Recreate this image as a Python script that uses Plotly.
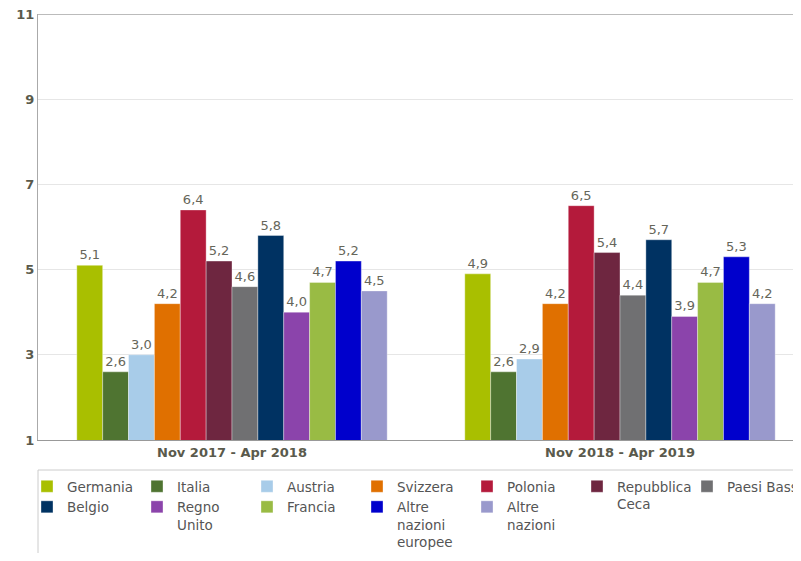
import plotly.graph_objects as go

periods = ["Nov 2017 - Apr 2018", "Nov 2018 - Apr 2019"]
countries = ["Germania", "Italia", "Austria", "Svizzera", "Polonia", "Repubblica Ceca",
             "Paesi Bassi", "Belgio", "Regno Unito", "Francia", "Altre nazioni europee",
             "Altre nazioni"]
legend_names = ["Germania", "Italia", "Austria", "Svizzera", "Polonia", "Repubblica<br>Ceca",
                "Paesi Bassi", "Belgio", "Regno<br>Unito", "Francia", "Altre<br>nazioni<br>europee",
                "Altre<br>nazioni"]
values_2018 = [5.1, 2.6, 3.0, 4.2, 6.4, 5.2, 4.6, 5.8, 4.0, 4.7, 5.2, 4.5]
values_2019 = [4.9, 2.6, 2.9, 4.2, 6.5, 5.4, 4.4, 5.7, 3.9, 4.7, 5.3, 4.2]
y_ticks = [1, 3, 5, 7, 9, 11]

colors = ["#a9bf00", "#4f7431", "#a8cce9", "#e07000", "#b41a3b", "#6e2640",
          "#707072", "#003262", "#8b44ab", "#99bb44", "#0000cc", "#9999cc"]
legend_col = [0, 1, 2, 3, 4, 5, 6, 0, 1, 2, 3, 4]

# the page body has an 8px margin, so figure pixel = page pixel - 8
OFF = 8
W, H = 801 - OFF, 561 - 2 * OFF
ml, mt = 38 - OFF, 14 - OFF
plot_bottom = 440 - OFF
mb = H - plot_bottom
plot_w = W - ml
plot_h = H - mt - mb

fig = go.Figure()
for i, c in enumerate(countries):
    lg = "legend" if legend_col[i] == 0 else f"legend{legend_col[i] + 1}"
    fig.add_trace(go.Bar(
        x=periods, y=[values_2018[i], values_2019[i]],
        name=legend_names[i], marker_color=colors[i],
        marker_line=dict(color="rgba(255,255,255,0.35)", width=1),
        texttemplate="%{y:.1f}", textposition="outside",
        textfont=dict(size=13, color="#66665a"),
        cliponaxis=False, legend=lg,
    ))

font_fam = "DejaVu Sans, Verdana, sans-serif"
layout_legends = {}
legend_top = 471 - OFF
for k in range(7):
    key = "legend" if k == 0 else f"legend{k + 1}"
    layout_legends[key] = dict(
        x=(27 - OFF + 110 * k - ml) / plot_w, xanchor="left",
        y=(plot_bottom - legend_top) / plot_h, yanchor="top",
        orientation="v", bgcolor="rgba(0,0,0,0)", borderwidth=0,
        font=dict(family=font_fam, size=13.5, color="#555555"),
        valign="top", traceorder="normal",
    )

fig.update_layout(
    width=W, height=H,
    margin=dict(l=ml, r=0, t=mt, b=mb, pad=0, autoexpand=False),
    paper_bgcolor="white", plot_bgcolor="white",
    barmode="group", bargap=0.2, bargroupgap=0,
    separators=",.",
    font=dict(family=font_fam, size=13, color="#555555"),
    showlegend=True,
    xaxis=dict(type="category", range=[-0.5, -0.5 + plot_w / 388],
               showline=True, linecolor="#999999", linewidth=1,
               showgrid=False, ticks="", fixedrange=True, automargin=False,
               tickfont=dict(family=font_fam, size=13, color="#5a5a4c", weight="bold")),
    yaxis=dict(range=[1, 11], tickvals=y_ticks, showline=True, linecolor="#aaaaaa",
               linewidth=1, gridcolor="#e6e6e6", gridwidth=1, zeroline=False, ticks="",
               automargin=False, ticklabeloverflow="allow",
               tickfont=dict(family=font_fam, size=13, color="#5a5a4c", weight="bold")),
    shapes=[
        dict(type="line", xref="paper", yref="y", x0=0, x1=1, y0=11, y1=11,
             line=dict(color="#bbbbbb", width=2)),
        dict(type="rect", xref="paper", yref="paper",
             x0=0, x1=1.05, y0=(plot_bottom - (470 - OFF)) / plot_h, y1=-0.4,
             line=dict(color="#cccccc", width=1), fillcolor="rgba(0,0,0,0)"),
    ],
    **layout_legends,
)

fig.write_html("out.html")
